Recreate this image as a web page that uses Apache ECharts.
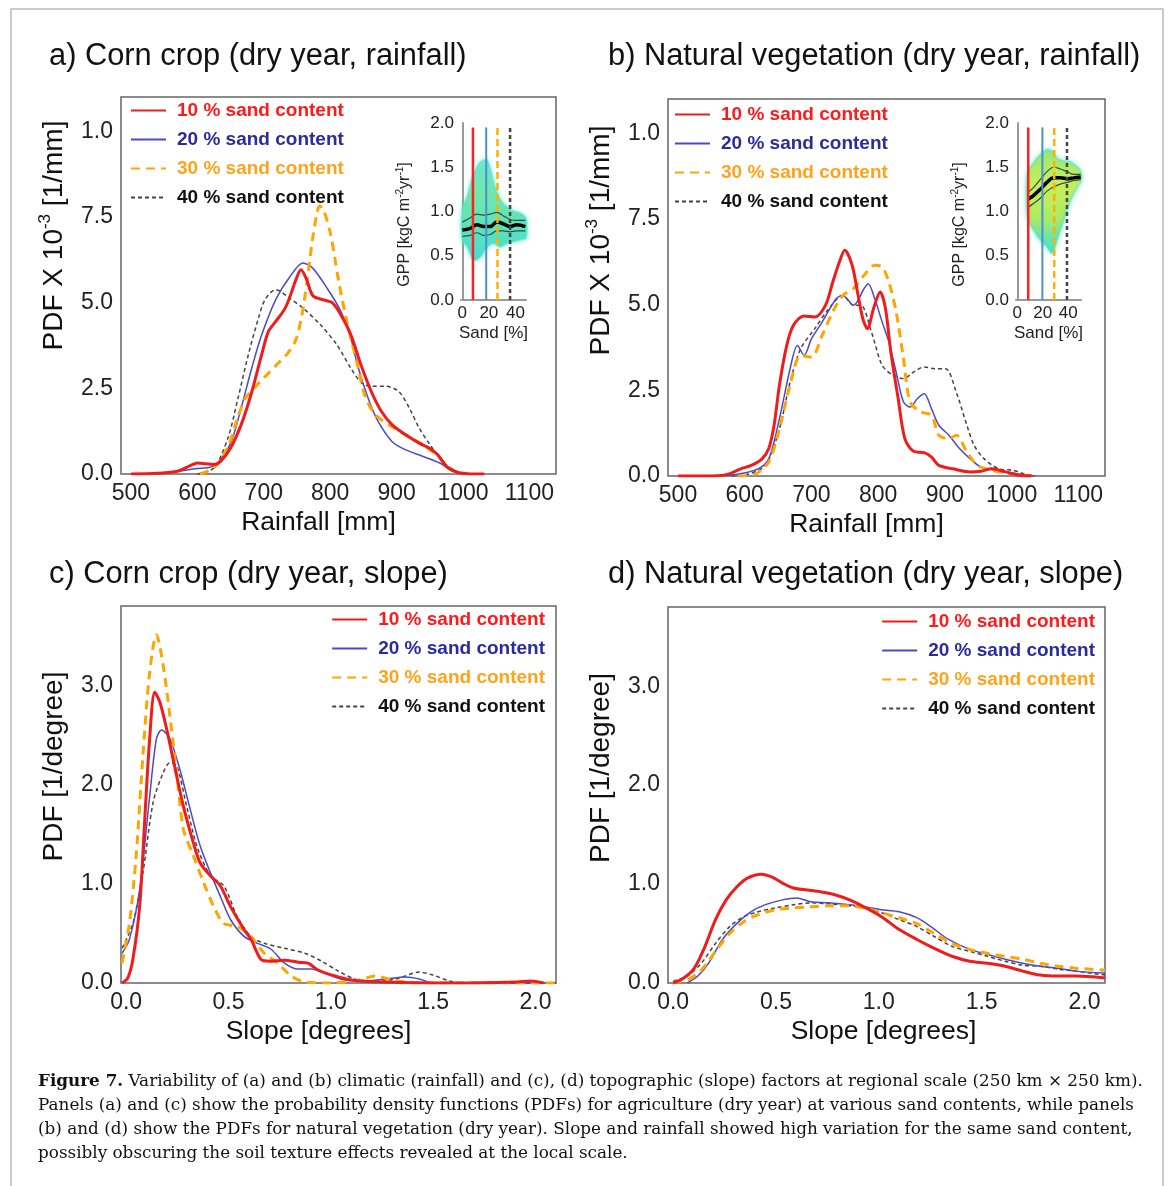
<!DOCTYPE html>
<html>
<head>
<meta charset="utf-8">
<script src="https://cdn.jsdelivr.net/npm/echarts@6/dist/echarts.min.js"></script>
<style>
  html, body { margin: 0; padding: 0; background: #fff; }
  #fig { width: 1173px; height: 1186px; }
</style>
</head>
<body>
<div id="fig"></div>
<script>
// legend / series names
var sandNames = ['10 % sand content', '20 % sand content', '30 % sand content', '40 % sand content'];

// a) corn crop, rainfall  [mm, PDF x 1e-3]
var rainCorn10 = [[500,0],[540,0.02],[570,0.08],[590,0.25],[600,0.32],[612,0.3],[625,0.28],[635,0.37],[650,0.76],[666,1.44],[682,2.4],[697,3.5],[707,4.16],[718,4.45],[731,4.8],[738,5.1],[749,5.7],[756,5.96],[764,5.7],[774,5.2],[790,5.08],[803,5.0],[816,4.65],[831,4.07],[846,3.2],[862,2.4],[877,1.83],[893,1.44],[913,1.15],[934,0.9],[949,0.76],[962,0.56],[975,0.22],[991,0.05],[1006,0.01],[1032,0]];
var rainCorn20 = [[530,0],[560,0.05],[585,0.12],[600,0.16],[615,0.18],[630,0.3],[651,0.95],[666,1.93],[682,3.1],[697,4.07],[718,5.09],[738,5.72],[759,6.16],[774,6.0],[795,5.43],[816,4.75],[831,3.97],[841,3.19],[857,2.22],[872,1.54],[893,0.95],[913,0.71],[939,0.52],[965,0.32],[985,0.08],[1006,0.01],[1020,0]];
var rainCorn30 = [[604,0],[625,0.18],[646,0.8],[660,1.6],[672,2.2],[690,2.6],[705,2.9],[720,3.2],[735,3.5],[748,3.9],[757,4.6],[765,5.6],[773,6.8],[780,7.6],[784,7.82],[790,7.7],[800,7.05],[807,6.3],[813,5.6],[826,4.36],[841,3.2],[852,2.3],[867,1.75],[888,1.44],[913,1.15],[939,0.86],[960,0.56],[975,0.27],[991,0.03],[1000,0]];
var rainCorn40 = [[600,0],[625,0.18],[646,1.05],[661,2.2],[677,3.5],[692,4.55],[702,5.09],[718,5.38],[738,5.14],[759,4.84],[785,4.36],[810,3.77],[831,3.09],[847,2.66],[862,2.56],[883,2.56],[903,2.41],[919,1.93],[934,1.34],[950,0.86],[965,0.47],[980,0.18],[996,0.03],[1010,0]];

// b) natural vegetation, rainfall
var rainNat10 = [[500,0],[560,0.01],[578,0.07],[594,0.21],[610,0.31],[626,0.5],[636,0.8],[644,1.48],[652,2.65],[663,3.81],[673,4.4],[689,4.67],[705,4.64],[721,4.98],[732,5.66],[742,6.25],[750,6.59],[761,6.15],[769,5.37],[777,4.59],[784,4.3],[793,4.88],[803,5.37],[811,4.88],[819,3.62],[830,2.26],[840,1.09],[853,0.72],[869,0.68],[880,0.55],[891,0.31],[912,0.21],[938,0.12],[954,0.14],[970,0.21],[991,0.12],[1012,0.02],[1030,0]];
var rainNat20 = [[560,0],[589,0.05],[620,0.21],[636,0.5],[652,1.67],[668,3.13],[679,3.81],[689,3.52],[700,4.0],[716,4.49],[737,5.17],[747,5.27],[763,4.98],[779,5.47],[785,5.61],[795,5.17],[806,4.49],[816,3.91],[827,3.03],[838,2.16],[848,2.01],[859,2.26],[869,2.4],[880,1.96],[891,1.48],[906,1.19],[922,0.8],[938,0.5],[954,0.26],[975,0.17],[997,0.1],[1023,0.02],[1035,0]];
var rainNat30 = [[590,0],[615,0.05],[636,0.41],[652,1.38],[668,2.65],[684,3.52],[700,3.47],[716,4.1],[732,4.79],[747,5.27],[763,5.47],[779,5.86],[795,6.15],[806,6.1],[816,5.66],[827,4.79],[838,3.42],[848,2.16],[864,1.87],[880,1.77],[891,1.19],[906,1.09],[917,1.19],[933,0.7],[949,0.31],[970,0.17],[991,0.09],[1018,0.02],[1030,0]];
var rainNat40 = [[580,0],[604,0.05],[631,0.31],[652,1.38],[668,2.74],[684,3.72],[705,4.3],[726,4.88],[747,5.27],[763,4.98],[774,4.98],[790,4.2],[806,3.23],[822,2.94],[838,2.84],[853,3.03],[869,3.18],[885,3.13],[901,3.13],[917,2.45],[933,1.48],[944,0.89],[959,0.5],[981,0.21],[1002,0.17],[1018,0.07],[1035,0]];

// c) corn crop, slope  [degrees, PDF]
var slopeCorn10 = [[-0.02,0],[0.008,0.05],[0.033,0.24],[0.066,0.77],[0.09,1.61],[0.115,2.46],[0.14,2.93],[0.165,2.83],[0.198,2.56],[0.23,2.25],[0.28,1.78],[0.329,1.41],[0.362,1.21],[0.412,1.08],[0.46,0.98],[0.51,0.77],[0.576,0.54],[0.61,0.44],[0.658,0.24],[0.7,0.22],[0.774,0.23],[0.84,0.21],[0.889,0.2],[0.938,0.13],[1.02,0.07],[1.1,0.03],[1.25,0.01],[1.6,0],[1.91,0.01],[1.975,0.02],[2.04,0]];
var slopeCorn20 = [[-0.02,0.3],[0.016,0.44],[0.066,0.94],[0.115,1.88],[0.148,2.46],[0.173,2.55],[0.214,2.46],[0.263,2.15],[0.313,1.75],[0.362,1.38],[0.412,1.11],[0.461,0.87],[0.51,0.64],[0.576,0.47],[0.642,0.4],[0.708,0.34],[0.774,0.2],[0.84,0.14],[0.905,0.14],[0.971,0.1],[1.07,0.03],[1.169,0.02],[1.267,0.04],[1.366,0.06],[1.432,0.04],[1.498,0],[2.1,0]];
var slopeCorn30 = [[-0.02,0.2],[0.016,0.6],[0.049,1.28],[0.082,2.29],[0.115,3.13],[0.148,3.51],[0.181,3.2],[0.214,2.69],[0.247,2.12],[0.28,1.55],[0.329,1.28],[0.379,1.01],[0.428,0.77],[0.477,0.6],[0.543,0.57],[0.609,0.47],[0.675,0.3],[0.741,0.2],[0.807,0.07],[0.872,0.01],[1.004,0],[1.136,0.03],[1.218,0.07],[1.3,0.03],[1.416,0],[2.1,0]];
var slopeCorn40 = [[-0.02,0.35],[0.033,0.6],[0.082,1.11],[0.132,1.82],[0.181,2.12],[0.214,2.22],[0.247,2.19],[0.296,1.78],[0.346,1.38],[0.412,1.08],[0.477,0.98],[0.543,0.67],[0.609,0.47],[0.675,0.4],[0.774,0.35],[0.872,0.3],[0.955,0.22],[1.037,0.12],[1.136,0.03],[1.251,0.02],[1.333,0.05],[1.432,0.11],[1.498,0.08],[1.58,0.02],[1.646,0],[2.1,0]];

// d) natural vegetation, slope
var slopeNat10 = [[0,0],[0.052,0.05],[0.103,0.15],[0.155,0.37],[0.206,0.64],[0.258,0.84],[0.309,0.97],[0.361,1.06],[0.429,1.1],[0.481,1.07],[0.532,1.01],[0.584,0.96],[0.652,0.94],[0.721,0.92],[0.79,0.89],[0.858,0.84],[0.927,0.77],[1.013,0.67],[1.099,0.54],[1.185,0.44],[1.27,0.35],[1.356,0.27],[1.442,0.22],[1.528,0.2],[1.614,0.17],[1.7,0.12],[1.785,0.08],[1.871,0.07],[1.957,0.07],[2.1,0.05]];
var slopeNat20 = [[0.069,0],[0.12,0.07],[0.172,0.2],[0.24,0.44],[0.309,0.6],[0.378,0.72],[0.446,0.79],[0.532,0.84],[0.601,0.86],[0.67,0.82],[0.755,0.81],[0.858,0.79],[0.927,0.77],[1.013,0.74],[1.099,0.72],[1.185,0.66],[1.253,0.57],[1.339,0.44],[1.442,0.34],[1.528,0.29],[1.614,0.24],[1.7,0.2],[1.785,0.17],[1.871,0.15],[1.957,0.12],[2.1,0.1]];
var slopeNat30 = [[0,0.01],[0.069,0.03],[0.137,0.13],[0.206,0.32],[0.275,0.5],[0.343,0.62],[0.412,0.69],[0.498,0.74],[0.584,0.76],[0.67,0.77],[0.755,0.78],[0.858,0.78],[0.927,0.76],[1.013,0.71],[1.099,0.66],[1.185,0.6],[1.27,0.5],[1.356,0.4],[1.442,0.34],[1.528,0.3],[1.614,0.27],[1.7,0.24],[1.785,0.2],[1.871,0.17],[1.957,0.15],[2.1,0.13]];
var slopeNat40 = [[0,0.02],[0.069,0.07],[0.137,0.2],[0.206,0.4],[0.275,0.57],[0.343,0.67],[0.412,0.72],[0.498,0.76],[0.584,0.79],[0.67,0.81],[0.755,0.8],[0.858,0.78],[0.927,0.76],[1.013,0.71],[1.099,0.64],[1.185,0.57],[1.27,0.47],[1.356,0.37],[1.442,0.32],[1.528,0.27],[1.614,0.22],[1.7,0.18],[1.785,0.17],[1.871,0.14],[1.957,0.12],[2.1,0.08]];

// insets: GPP vs sand
var cloudAX = [0, 3.75, 8.75, 13.75, 18.75, 23.75, 28.75, 33.75, 38.75, 43.75, 48];
var cloudATop = [1.02, 1.17, 1.43, 1.56, 1.58, 1.32, 1.13, 1.05, 1.0, 0.98, 0.92];
var cloudABot = [0.68, 0.6, 0.45, 0.49, 0.6, 0.64, 0.6, 0.64, 0.66, 0.68, 0.7];
var meanAX = [0, 6, 11, 16, 21, 26, 31, 36, 41, 47.5];
var meanA = [0.79, 0.81, 0.85, 0.83, 0.83, 0.88, 0.86, 0.83, 0.85, 0.83];
var meanAUp = [0.88, 0.93, 0.97, 0.96, 0.97, 0.99, 0.95, 0.91, 0.9, 0.9];
var meanALo = [0.72, 0.73, 0.76, 0.73, 0.74, 0.78, 0.78, 0.77, 0.78, 0.78];
var sandLinesA = [8, 18, 26.5, 36];

var cloudBX = [7.9, 12.7, 18, 23.3, 27.3, 31.3, 36.6, 41.9, 47.2, 50];
var cloudBTop = [1.43, 1.55, 1.64, 1.7, 1.68, 1.6, 1.57, 1.56, 1.5, 1.45];
var cloudBBot = [0.94, 0.79, 0.68, 0.6, 0.53, 0.68, 0.91, 1.13, 1.28, 1.34];
var meanBX = [8.7, 12.7, 18, 23.3, 28.6, 33.9, 39.2, 44.5, 49.8];
var meanB = [1.14, 1.18, 1.25, 1.33, 1.38, 1.38, 1.37, 1.38, 1.39];
var meanBUp = [1.22, 1.27, 1.36, 1.45, 1.5, 1.48, 1.45, 1.42, 1.42];
var meanBLo = [1.05, 1.09, 1.15, 1.23, 1.28, 1.31, 1.33, 1.35, 1.36];
var sandLinesB = [8.6, 19.7, 29, 39];

var captionLines = [
  ['Figure 7.', ' Variability of (a) and (b) climatic (rainfall) and (c), (d) topographic (slope) factors at regional scale (250 km \u00d7 250 km).'],
  ['', 'Panels (a) and (c) show the probability density functions (PDFs) for agriculture (dry year) at various sand contents, while panels'],
  ['', '(b) and (d) show the PDFs for natural vegetation (dry year). Slope and rainfall showed high variation for the same sand content,'],
  ['', 'possibly obscuring the soil texture effects revealed at the local scale.']
];

var FONT = 'Liberation Sans';
var SERIF = 'DejaVu Serif';
var lineStyles = [
  { color: '#ee1c1c', width: 3, type: 'solid' },
  { color: '#4a4ac8', width: 1.5, type: 'solid' },
  { color: '#ffa500', width: 3, type: [9, 6] },
  { color: '#444444', width: 1.5, type: [4, 3] }
];
var legendColors = ['#ff1a1a', '#2b2ba0', '#ffa31a', '#111111'];
var vlineColors = ['#ff2020', '#4a90d0', '#ffb000', '#444444'];

var chart = echarts.init(document.getElementById('fig'));

function fmtMultiple(step, digits) {
  return function (v) {
    var k = v / step;
    if (Math.abs(k - Math.round(k)) > 1e-6) return '';
    return digits === 0 ? String(Math.round(v)) : v.toFixed(digits);
  };
}

var pdfName = 'PDF X 10{sup|-3} [1/mm]';
var nameRich = { sup: { fontSize: 17, verticalAlign: 'top', fontFamily: FONT, color: '#111' } };

// shift > 0 moves the name left (x) / up (y) along its axis
function mainX(idx, min, max, step, name, labelFmt, shift) {
  return {
    type: 'value', gridIndex: idx, min: min, max: max, interval: step,
    name: name, nameLocation: 'middle', nameGap: 35,
    nameTextStyle: { fontSize: 26.5, color: '#111', fontFamily: FONT, padding: [0, 2 * shift, 0, 0] },
    axisLine: { show: false }, axisTick: { show: false }, splitLine: { show: false },
    axisLabel: { interval: 0, fontSize: 23, color: '#222', margin: 8, fontFamily: FONT, formatter: labelFmt }
  };
}
function mainY(idx, max, step, name, labelFmt, shift) {
  return {
    type: 'value', gridIndex: idx, min: 0, max: max, interval: step,
    name: name, nameLocation: 'middle', nameGap: 49,
    nameTextStyle: { fontSize: 28, color: '#111', fontFamily: FONT, lineHeight: 35, rich: nameRich,
      padding: [0, 0, 0, 2 * shift] },
    axisLine: { show: false }, axisTick: { show: false }, splitLine: { show: false },
    axisLabel: { fontSize: 23, color: '#222', margin: 8, fontFamily: FONT, formatter: labelFmt }
  };
}
function insetX(idx, max) {
  return {
    type: 'value', gridIndex: idx, min: -1, max: max, interval: 1,
    name: 'Sand [%]', nameLocation: 'middle', nameGap: 25,
    nameTextStyle: { fontSize: 17, color: '#222', fontFamily: FONT },
    axisLine: { show: true, lineStyle: { color: '#999', width: 2 } },
    axisTick: { show: false }, splitLine: { show: false },
    axisLabel: { interval: 0, fontSize: 17, color: '#222', margin: 5, fontFamily: FONT, formatter: fmtMultiple(20, 0) }
  };
}
function insetY(idx) {
  return {
    type: 'value', gridIndex: idx, min: 0, max: 2, interval: 0.5,
    name: 'GPP [kgC m{sup|-2}yr{sup|-1}]', nameLocation: 'middle', nameGap: 46,
    nameTextStyle: { fontSize: 16, color: '#222', fontFamily: FONT, lineHeight: 20, padding: [0, 26, 0, 0],
      rich: { sup: { fontSize: 10, verticalAlign: 'top', fontFamily: FONT, color: '#222' } } },
    axisLine: { show: true, lineStyle: { color: '#999', width: 2 } },
    axisTick: { show: false }, splitLine: { show: false },
    axisLabel: { fontSize: 17, color: '#222', margin: 7, fontFamily: FONT, formatter: function (v) { return v.toFixed(1); } }
  };
}

var rainFmt = fmtMultiple(100, 0);
var slopeFmt = fmtMultiple(0.5, 1);
var pdfRainFmt = function (v) {
  var k = v / 2.5;
  if (Math.abs(k - Math.round(k)) > 1e-6) return '';
  return v === 10 ? '1.0' : v.toFixed(1);
};
var pdfSlopeFmt = fmtMultiple(1, 1);

var grids = [
  { left: 121, top: 97, width: 435, height: 377 },
  { left: 668, top: 99, width: 437, height: 377 },
  { left: 121, top: 606, width: 435, height: 377 },
  { left: 668, top: 607, width: 437, height: 376 },
  { left: 461, top: 123, width: 65, height: 177 },
  { left: 1016, top: 123, width: 65, height: 177 }
].map(function (g, i) {
  var o = { left: g.left, top: g.top, width: g.width, height: g.height, containLabel: false };
  if (i < 4) { o.show = true; o.borderColor = '#666'; o.borderWidth = 1.5; o.backgroundColor = 'transparent'; }
  return o;
});

var xAxes = [
  mainX(0, 485, 1140, 5, 'Rainfall [mm]', rainFmt, 20),
  mainX(1, 485, 1140, 5, 'Rainfall [mm]', rainFmt, 20),
  mainX(2, -0.025, 2.1, 0.025, 'Slope [degrees]', slopeFmt, 20),
  mainX(3, -0.025, 2.1, 0.025, 'Slope [degrees]', slopeFmt, 3),
  insetX(4, 48),
  insetX(5, 50)
];
var yAxes = [
  mainY(0, 11, 2.5, pdfName, pdfRainFmt, 50),
  mainY(1, 11, 2.5, pdfName, pdfRainFmt, 47),
  mainY(2, 3.8, 1, 'PDF [1/degree]', pdfSlopeFmt, 28),
  mainY(3, 3.8, 1, 'PDF [1/degree]', pdfSlopeFmt, 27),
  insetY(4),
  insetY(5)
];

var series = [];
var panelData = [
  [rainCorn10, rainCorn20, rainCorn30, rainCorn40],
  [rainNat10, rainNat20, rainNat30, rainNat40],
  [slopeCorn10, slopeCorn20, slopeCorn30, slopeCorn40],
  [slopeNat10, slopeNat20, slopeNat30, slopeNat40]
];
panelData.forEach(function (set, p) {
  // 40 % drawn first so the red curve ends up on top, as in the figure
  [3, 2, 1, 0].forEach(function (k) {
    series.push({
      type: 'line', name: sandNames[k], xAxisIndex: p, yAxisIndex: p,
      data: set[k], symbol: 'none', smooth: 0.3, silent: true,
      lineStyle: lineStyles[k], itemStyle: { color: lineStyles[k].color },
      z: 3 + (k === 0 ? 2 : k === 2 ? 1 : 0)
    });
  });
});

function zip(xs, ys) { return xs.map(function (x, i) { return [x, ys[i]]; }); }

function addInset(idx, cx, cTop, cBot, mx, m, mUp, mLo, vlines, stops) {
  // point cloud drawn as its envelope
  series.push({
    type: 'custom', xAxisIndex: idx, yAxisIndex: idx, silent: true, z: 2,
    data: [[cx[0], cTop[0]]],
    renderItem: function (params, api) {
      var pts = [];
      for (var i = 0; i < cx.length; i++) pts.push(api.coord([cx[i], cTop[i]]));
      for (var j = cx.length - 1; j >= 0; j--) pts.push(api.coord([cx[j], cBot[j]]));
      return {
        type: 'polygon', shape: { points: pts, smooth: 0.3 },
        style: {
          fill: new echarts.graphic.LinearGradient(0, 0, 0, 1, stops),
          stroke: 'rgba(80,228,205,0.45)', lineWidth: 2,
          shadowBlur: 5, shadowColor: 'rgba(80,228,205,0.7)'
        }
      };
    }
  });
  [mUp, mLo].forEach(function (b) {
    series.push({
      type: 'line', xAxisIndex: idx, yAxisIndex: idx, silent: true, data: zip(mx, b),
      symbol: 'none', smooth: 0.4, lineStyle: { color: '#3a4a44', width: 1.2 }, z: 3
    });
  });
  series.push({
    type: 'line', xAxisIndex: idx, yAxisIndex: idx, silent: true, data: zip(mx, m),
    symbol: 'none', smooth: 0.4, lineStyle: { color: '#000', width: 3.5 }, z: 4
  });
  vlines.forEach(function (s, k) {
    series.push({
      type: 'line', xAxisIndex: idx, yAxisIndex: idx, silent: true, data: [[s, 0], [s, 1.95]],
      symbol: 'none',
      lineStyle: { color: vlineColors[k], width: k === 1 ? 2 : 2.5, type: k === 2 ? [7, 4] : k === 3 ? [4, 3] : 'solid' },
      z: 5
    });
  });
}
addInset(4, cloudAX, cloudATop, cloudABot, meanAX, meanA, meanAUp, meanALo, sandLinesA,
  [{ offset: 0, color: 'rgba(100,228,200,0.8)' }, { offset: 0.35, color: '#72e8aa' },
   { offset: 0.65, color: '#5ce4b6' }, { offset: 1, color: '#42dedc' }]);
addInset(5, cloudBX, cloudBTop, cloudBBot, meanBX, meanB, meanBUp, meanBLo, sandLinesB,
  [{ offset: 0, color: '#96e87a' }, { offset: 0.35, color: '#c8ef58' },
   { offset: 0.65, color: '#aeea66' }, { offset: 1, color: '#3edfd6' }]);

function legendFor(pos) {
  var o = {
    orient: 'vertical', top: pos.top, itemWidth: 35, itemHeight: 14, itemGap: 10,
    selectedMode: false, align: 'left',
    itemStyle: { opacity: 0 },
    textStyle: { fontSize: 19, fontWeight: 'bold', fontFamily: FONT, padding: [0, 0, 0, 6] },
    data: sandNames.map(function (n, k) { return { name: n, textStyle: { color: legendColors[k] } }; })
  };
  if (pos.left !== undefined) o.left = pos.left; else o.right = pos.right;
  return o;
}

// caption font size chosen so the first (justified) line spans the text block width
var capCtx = document.createElement('canvas').getContext('2d');
capCtx.font = '18px "' + SERIF + '"';
var capW = capCtx.measureText(captionLines[0][0] + captionLines[0][1]).width;
var capSize = Math.min(18, 18 * 1098 / capW);

var titleStyle = { fontSize: 30.8, fontWeight: 'normal', color: '#111', fontFamily: FONT };
var option = {
  backgroundColor: '#fff',
  animation: false,
  title: [
    { text: 'a) Corn crop (dry year, rainfall)', left: 44, top: 36, textStyle: titleStyle },
    { text: 'b) Natural vegetation (dry year, rainfall)', left: 603, top: 36, textStyle: titleStyle },
    { text: 'c) Corn crop (dry year, slope)', left: 44, top: 554, textStyle: titleStyle },
    { text: 'd) Natural vegetation (dry year, slope)', left: 603, top: 554, textStyle: titleStyle }
  ],
  legend: [
    legendFor({ left: 125, top: 96 }),
    legendFor({ left: 669, top: 100 }),
    legendFor({ right: 623, top: 605 }),
    legendFor({ right: 73, top: 607 })
  ],
  grid: grids,
  xAxis: xAxes,
  yAxis: yAxes,
  series: series,
  graphic: [
    { type: 'rect', shape: { x: 11, y: 9, width: 1152, height: 1200 }, style: { fill: 'none', stroke: '#bbb', lineWidth: 1.5 }, silent: true, z: -1 }
  ].concat(captionLines.map(function (t, i) {
    return {
      type: 'text', left: 38, top: 1073 + i * 24, silent: true,
      style: {
        text: (t[0] ? '{b|' + t[0] + '}' : '') + t[1], fill: '#111',
        font: capSize.toFixed(2) + 'px "' + SERIF + '"',
        rich: { b: { fontWeight: 'bold', fontSize: capSize, fontFamily: SERIF, fill: '#111' } }
      }
    };
  }))
};

chart.setOption(option);
</script>
</body>
</html>
